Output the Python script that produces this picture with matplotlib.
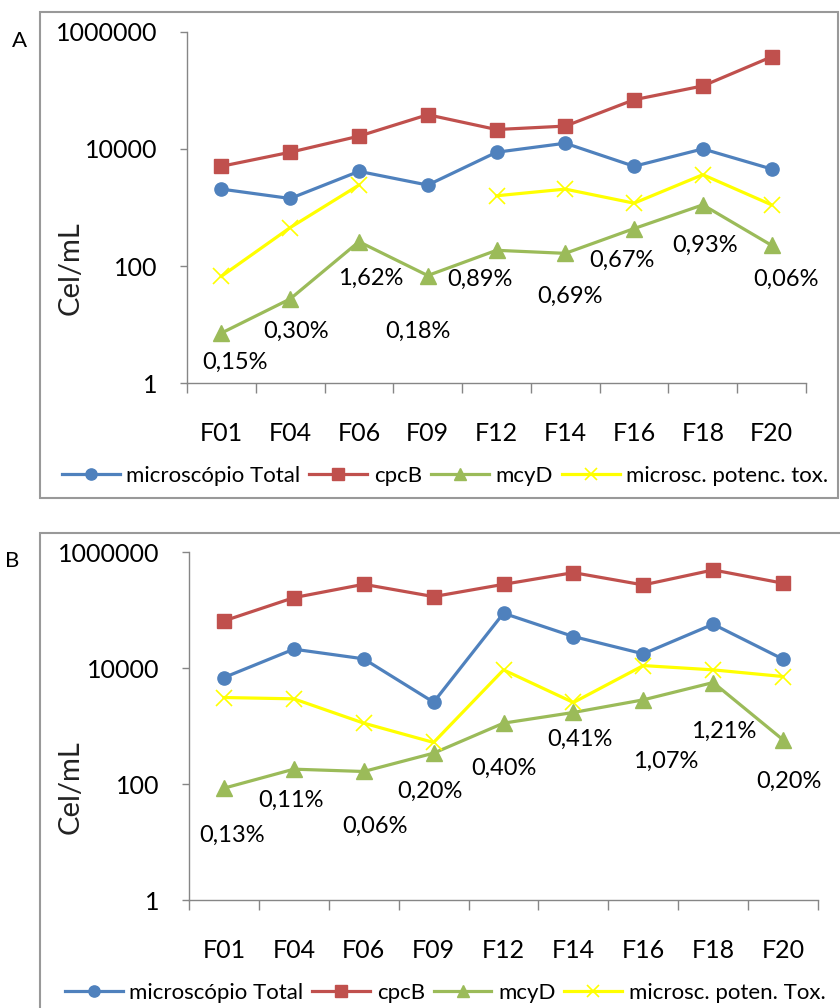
import numpy as np
import matplotlib
matplotlib.use("Agg")
import matplotlib.pyplot as plt
from matplotlib.patches import Rectangle

plt.rcParams['font.family'] = ['Lato', 'DejaVu Sans']

sites = ["F01", "F04", "F06", "F09", "F12", "F14", "F16", "F18", "F20"]

# panel A
a_total = [2060, 1425, 4140, 2415, 8770, 12500, 5050, 10000, 4540]
a_cpcb = [5050, 8770, 16500, 38300, 21400, 24500, 69000, 118700, 372800]
a_mcyd = [7.2, 27.5, 261, 69, 186, 165, 437, 1110, 226]
a_tox = [67, 454, 2415, np.nan, 1585, 2060, 1185, 3630, 1110]
a_pct = ["0,15%", "0,30%", "1,62%", "0,18%", "0,89%", "0,69%", "0,67%", "0,93%", "0,06%"]
a_off = [(14, -29), (6, -32), (12, -37), (-10, -56), (-17, -29), (5, -43), (-12, -32), (2, -40), (14, -34)]

# panel B
b_total = [6900, 21300, 14500, 2590, 88800, 35200, 17700, 57400, 14300]
b_cpcb = [65500, 165000, 280500, 172000, 280000, 446000, 273500, 496000, 292700]
b_mcyd = [85, 181, 165, 342, 1127, 1722, 2845, 5660, 581]
b_tox = [3120, 2960, 1127, 523, 9360, 2560, 11100, 9360, 7180]
b_pct = ["0,13%", "0,11%", "0,06%", "0,20%", "0,40%", "0,41%", "1,07%", "1,21%", "0,20%"]
b_off = [(8, -47), (-3, -31), (11, -55), (-4, -38), (0, -45), (7, -27), (22, -62), (11, -49), (6, -42)]

blue = "#4F81BD"
red = "#C0504D"
green = "#9BBB59"
yellow = "#FFFF00"
grey = "#868686"

W, H = 840, 1008
fig = plt.figure(figsize=(8.4, 10.08), dpi=100)


def panel(rect, total, cpcb, mcyd, tox, pct, offs, tox_label, legend_y):
    ax = fig.add_axes(rect)
    x = np.arange(len(sites))
    l1, = ax.plot(x, total, color=blue, lw=2.3, marker="o", ms=9.5,
                  label="microscópio Total")
    l2, = ax.plot(x, cpcb, color=red, lw=2.3, marker="s", ms=10.5, label="cpcB")
    l3, = ax.plot(x, mcyd, color=green, lw=2.3, marker="^", ms=11, label="mcyD")
    l4, = ax.plot(x, tox, color=yellow, lw=2.3, marker="x", ms=11, mew=1.2,
                  label=tox_label)
    for i, (t, o) in enumerate(zip(pct, offs)):
        ax.annotate(t, (i, mcyd[i]), xytext=o, textcoords="offset pixels",
                    ha="center", va="center", fontsize=17, color="black")
    ax.set_yscale("log")
    ax.set_ylim(1, 1e6)
    ax.set_xlim(-0.5, len(sites) - 0.5)
    ax.set_yticks([1, 100, 10000, 1000000])
    ax.set_yticklabels(["1", "100", "10000", "1000000"])
    ax.minorticks_off()
    ax.set_xticks(x)
    ax.set_xticklabels(sites)
    ax.set_xticks(np.arange(-0.5, len(sites)), minor=True)
    ax.tick_params(axis="x", which="major", length=0, pad=28, labelsize=18)
    ax.tick_params(axis="x", which="minor", length=7, width=1, color=grey,
                   direction="out")
    ax.tick_params(axis="y", length=5, width=1, color=grey, pad=16,
                   labelsize=18)
    for s in ["top", "right"]:
        ax.spines[s].set_visible(False)
    for s in ["left", "bottom"]:
        ax.spines[s].set_color(grey)
        ax.spines[s].set_linewidth(1)
    fig.legend(handles=[l1, l2, l3, l4], loc="center",
               bbox_to_anchor=(0.53, legend_y), ncol=4, frameon=False,
               fontsize=16, handlelength=2.6, handletextpad=0.3,
               columnspacing=0.4, markerscale=0.85)
    return ax


panel([187 / W, 1 - 383.3 / H, 619 / W, 351.6 / H],
      a_total, a_cpcb, a_mcyd, a_tox, a_pct, a_off,
      "microsc. potenc. tox.", 1 - 476 / H)
panel([189 / W, 1 - 900 / H, 629 / W, 347.7 / H],
      b_total, b_cpcb, b_mcyd, b_tox, b_pct, b_off,
      "microsc. poten. Tox.", 1 - 993 / H)

for yc in [268, 787]:
    fig.text(71 / W, 1 - yc / H, "Cel/mL", rotation=90, ha="center",
             va="center", fontsize=21, color="#222222")

fig.text(20 / W, 1 - 41 / H, "A", ha="center", va="center", fontsize=16)
fig.text(12 / W, 1 - 561 / H, "B", ha="center", va="center", fontsize=16)

# outer frames
fig.patches.append(Rectangle((40 / W, 1 - 498 / H), 798 / W, 486 / H,
                             transform=fig.transFigure, fill=False,
                             edgecolor="#999999", lw=1.5))
fig.patches.append(Rectangle((40 / W, -10 / H), 810 / W, (1008 - 533 + 10) / H,
                             transform=fig.transFigure, fill=False,
                             edgecolor="#999999", lw=1.5))

fig.savefig("out.png", dpi=100)
